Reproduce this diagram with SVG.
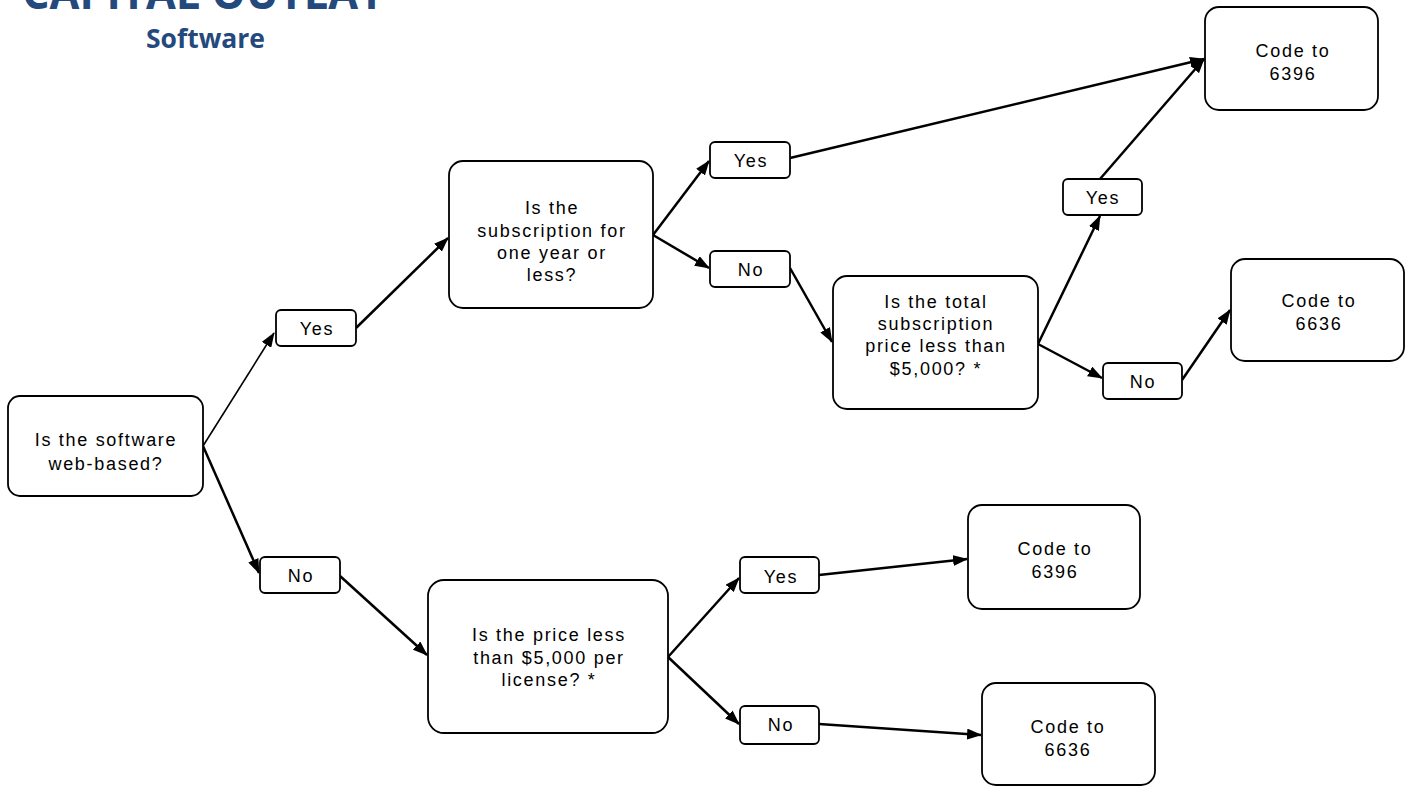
<svg xmlns="http://www.w3.org/2000/svg" width="1411" height="787" viewBox="0 0 1411 787">
<defs>
<marker id="ah" markerUnits="userSpaceOnUse" markerWidth="15" markerHeight="11" refX="14" refY="5.5" orient="auto">
<path d="M0,0 L15,5.5 L0,11 z" fill="#000"/>
</marker>
<style>
.box{fill:#fff;stroke:#000;stroke-width:1.8}
.lbl{fill:#fff;stroke:#000;stroke-width:1.8}
.t{font-family:"Liberation Sans",Arial,sans-serif;font-size:18px;letter-spacing:1.7px;text-anchor:middle;fill:#000}
.c{fill:none;stroke:#000;stroke-width:2.5;marker-end:url(#ah)}
.thin{stroke-width:1.6}
.title{font-family:"Open Sans","Liberation Sans",sans-serif;font-weight:bold;fill:#24497c}
</style>
</defs>
<rect width="1411" height="787" fill="#fff"/>
<text class="title" x="22" y="9" font-size="46" textLength="363" lengthAdjust="spacingAndGlyphs">CAPITAL OUTLAY</text>
<text class="title" x="146" y="48" font-size="27" textLength="119" lengthAdjust="spacingAndGlyphs">Software</text>

<g id="connectors">
<path class="c thin" d="M203,446 L274,333"/>
<path class="c" d="M203,446 L259,573"/>
<path class="c" d="M356,328 L448,238"/>
<path class="c" d="M653,235 L709,161"/>
<path class="c" d="M653,235 L709,268"/>
<path class="c" d="M790,158 L1204,59"/>
<path class="c" d="M790,268 L832,342"/>
<path class="c" d="M1038,344 L1100,216"/>
<path class="c" d="M1038,344 L1102,378"/>
<path class="c" d="M1100,179 L1204,59"/>
<path class="c" d="M1182,380 L1230,310"/>
<path class="c" d="M340,576 L427,655"/>
<path class="c" d="M668,657 L739,578"/>
<path class="c" d="M668,657 L739,724"/>
<path class="c" d="M819,575 L967,559"/>
<path class="c" d="M819,724 L981,735"/>
</g>

<g id="q-web">
<rect class="box" x="8" y="396" width="195" height="100" rx="12"/>
<text class="t" x="106" y="446">Is the software</text>
<text class="t" x="106" y="470">web-based?</text>
</g>

<g id="yes-web">
<rect class="lbl" x="276" y="310" width="80" height="36" rx="5"/>
<text class="t" x="317" y="335">Yes</text>
</g>

<g id="no-web">
<rect class="lbl" x="260" y="557" width="80" height="36" rx="5"/>
<text class="t" x="301" y="582">No</text>
</g>

<g id="q-subscription">
<rect class="box" x="449" y="161" width="204" height="147" rx="14"/>
<text class="t" x="552" y="214">Is the</text>
<text class="t" x="552" y="237">subscription for</text>
<text class="t" x="552" y="259">one year or</text>
<text class="t" x="552" y="281">less?</text>
</g>

<g id="yes-sub">
<rect class="lbl" x="710" y="142" width="80" height="36" rx="5"/>
<text class="t" x="751" y="167">Yes</text>
</g>

<g id="no-sub">
<rect class="lbl" x="710" y="251" width="80" height="36" rx="5"/>
<text class="t" x="751" y="276">No</text>
</g>

<g id="q-total">
<rect class="box" x="833" y="276" width="205" height="133" rx="14"/>
<text class="t" x="936" y="308">Is the total</text>
<text class="t" x="936" y="330">subscription</text>
<text class="t" x="936" y="352">price less than</text>
<text class="t" x="936" y="375">$5,000? *</text>
</g>

<g id="yes-total">
<rect class="lbl" x="1063" y="179" width="79" height="36" rx="5"/>
<text class="t" x="1103" y="204">Yes</text>
</g>

<g id="no-total">
<rect class="lbl" x="1103" y="363" width="79" height="36" rx="5"/>
<text class="t" x="1143" y="388">No</text>
</g>

<g id="code-6396-a">
<rect class="box" x="1205" y="7" width="173" height="103" rx="14"/>
<text class="t" x="1293" y="57">Code to</text>
<text class="t" x="1293" y="80">6396</text>
</g>

<g id="code-6636-a">
<rect class="box" x="1231" y="259" width="173" height="102" rx="14"/>
<text class="t" x="1319" y="307">Code to</text>
<text class="t" x="1319" y="330">6636</text>
</g>

<g id="q-price">
<rect class="box" x="428" y="580" width="240" height="153" rx="16"/>
<text class="t" x="549" y="641">Is the price less</text>
<text class="t" x="549" y="664">than $5,000 per</text>
<text class="t" x="549" y="686">license? *</text>
</g>

<g id="yes-price">
<rect class="lbl" x="740" y="557" width="79" height="36" rx="5"/>
<text class="t" x="781" y="583">Yes</text>
</g>

<g id="no-price">
<rect class="lbl" x="740" y="706" width="79" height="38" rx="5"/>
<text class="t" x="781" y="731">No</text>
</g>

<g id="code-6396-b">
<rect class="box" x="968" y="505" width="172" height="104" rx="14"/>
<text class="t" x="1055" y="555">Code to</text>
<text class="t" x="1055" y="578">6396</text>
</g>

<g id="code-6636-b">
<rect class="box" x="982" y="683" width="173" height="102" rx="14"/>
<text class="t" x="1068" y="733">Code to</text>
<text class="t" x="1068" y="756">6636</text>
</g>
</svg>
